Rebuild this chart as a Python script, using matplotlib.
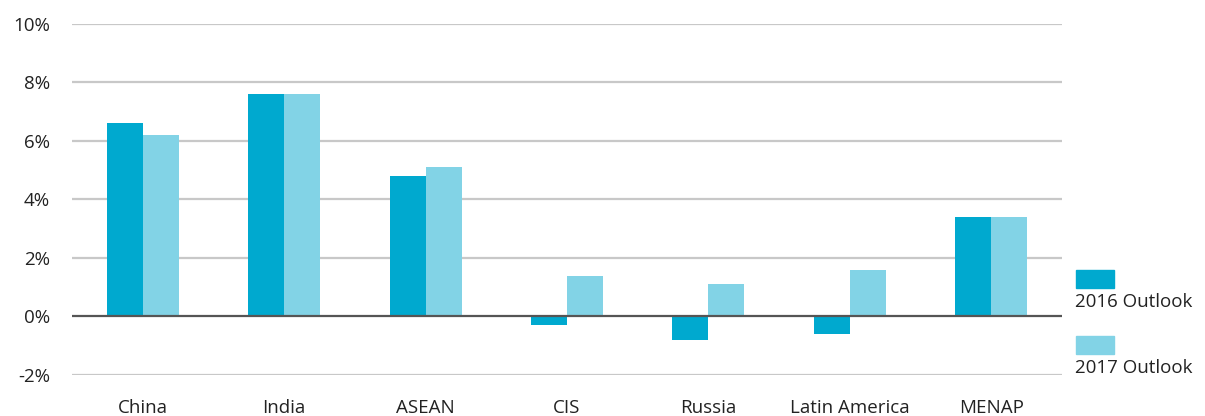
import matplotlib
matplotlib.use("Agg")
import matplotlib.pyplot as plt
from matplotlib.patches import Rectangle
import numpy as np

plt.rcParams["font.family"] = ["Open Sans", "DejaVu Sans"]

regions = ["China", "India", "ASEAN", "CIS", "Russia", "Latin America", "MENAP"]
outlook_2016 = [6.6, 7.6, 4.8, -0.3, -0.8, -0.6, 3.4]
outlook_2017 = [6.2, 7.6, 5.1, 1.4, 1.1, 1.6, 3.4]
y_ticks = [-2, 0, 2, 4, 6, 8, 10]

c2016 = "#00a9cf"
c2017 = "#82d3e6"
txt = "#222222"
fs = 13.5

fig = plt.figure(figsize=(12.05, 4.16), dpi=100)
ax = fig.add_axes([0.0598, 0.0986, 0.8215, 0.8437])

x = np.arange(len(regions))
w = 0.255
ax.bar(x - w / 2, outlook_2016, width=w, color=c2016, zorder=2)
ax.bar(x + w / 2, outlook_2017, width=w, color=c2017, zorder=2)

ax.set_xlim(-0.5, len(regions) - 0.5)
ax.set_ylim(-2, 10)
ax.set_yticks(y_ticks)
ax.set_yticklabels([f"{t}%" for t in y_ticks], fontsize=fs, color=txt)
ax.set_xticks(x)
ax.set_xticklabels(regions, fontsize=fs, color=txt)
ax.tick_params(length=0, axis="y", pad=16)
ax.tick_params(length=0, axis="x", pad=17)

for t in y_ticks:
    if t == 0:
        ax.axhline(t, color="#555555", lw=1.6, zorder=3)
    else:
        ax.axhline(t, color="#c8c8c8", lw=1.6, zorder=1)

for s in ax.spines.values():
    s.set_visible(False)

# legend drawn by hand on the right
fig.patches.append(Rectangle((1076 / 1205, 1 - 288 / 416), 38 / 1205, 18 / 416,
                             transform=fig.transFigure, color=c2016))
fig.text(1075 / 1205, 1 - 302 / 416, "2016 Outlook", fontsize=fs, va="center", color=txt)
fig.patches.append(Rectangle((1076 / 1205, 1 - 354 / 416), 38 / 1205, 18 / 416,
                             transform=fig.transFigure, color=c2017))
fig.text(1075 / 1205, 1 - 368 / 416, "2017 Outlook", fontsize=fs, va="center", color=txt)

fig.savefig("out.png", dpi=100)
